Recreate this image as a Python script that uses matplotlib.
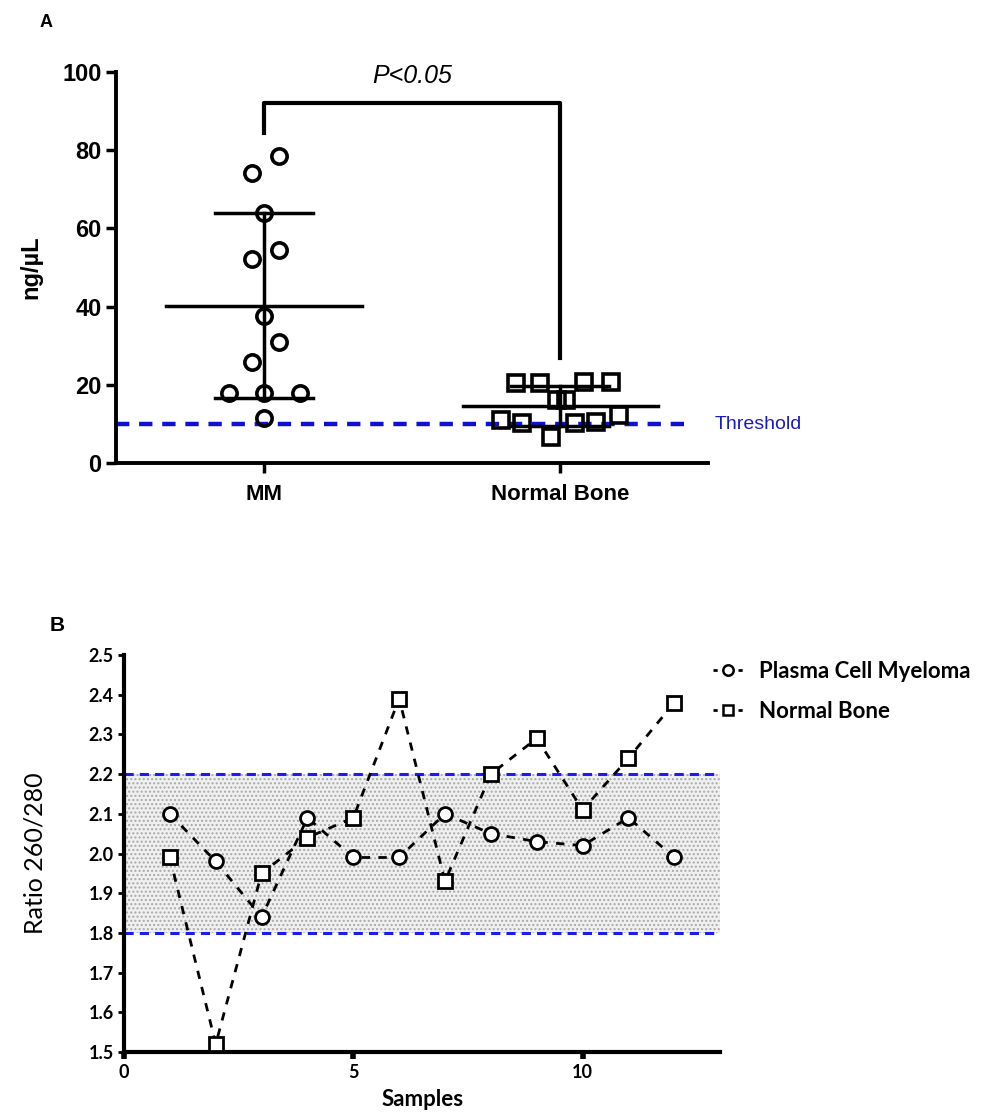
import numpy as np
import matplotlib.pyplot as plt
from matplotlib.lines import Line2D

# Panel A: DNA concentration (ng/uL)
groups = ["MM", "Normal Bone"]
mm_vals = [78.5, 74.2, 63.9, 54.5, 52.2, 37.6, 31.0, 25.8, 17.9, 17.9, 17.9, 11.5]
mm_dx = [0.05, -0.04, 0.0, 0.05, -0.04, 0.0, 0.05, -0.04, -0.12, 0.0, 0.12, 0.0]
nb_vals = [20.5, 20.5, 20.7, 20.7, 16.1, 16.1, 11.0, 10.2, 6.6, 10.2, 10.5, 12.3]
nb_dx = [-0.15, -0.07, 0.08, 0.17, -0.01, 0.02, -0.2, -0.13, -0.03, 0.05, 0.12, 0.2]
threshold = 10

# Panel B: ratio 260/280
samples = list(range(1, 13))
myeloma = [2.10, 1.98, 1.84, 2.09, 1.99, 1.99, 2.10, 2.05, 2.03, 2.02, 2.09, 1.99]
normal = [1.99, 1.52, 1.95, 2.04, 2.09, 2.39, 1.93, 2.20, 2.29, 2.11, 2.24, 2.38]
band = (1.8, 2.2)

fig = plt.figure(figsize=(9.92, 11.16), dpi=100)

# ---------------- Panel A ----------------
ax = fig.add_axes([0.117, 0.585, 0.597, 0.3505])
ax.set_xlim(-0.5, 1.5)
ax.set_ylim(0, 100)
for s in ["top", "right"]:
    ax.spines[s].set_visible(False)
for s in ["left", "bottom"]:
    ax.spines[s].set_linewidth(2.8)
ax.tick_params(width=2.5, length=7)
ax.tick_params(axis="y", labelsize=17)
ax.tick_params(axis="x", labelsize=16, pad=8)
ax.set_yticks([0, 20, 40, 60, 80, 100])
ax.set_xticks([0, 1])
ax.set_xticklabels(groups)
for lab in ax.get_xticklabels() + ax.get_yticklabels():
    lab.set_fontweight("bold")
    lab.set_family("Liberation Sans")
ax.set_ylabel("ng/µL", fontsize=17, fontweight="bold", family="Liberation Sans", labelpad=14)

ax.axhline(threshold, xmin=0, xmax=0.97, color="#1010d0", ls=(0, (3, 2.2)), lw=3.2, zorder=1)
ax.text(1.52, threshold, "Threshold", color="#1a1ac8", fontsize=14, va="center",
        family="Liberation Sans", clip_on=False)

for i, (vals, dx, mk) in enumerate([(mm_vals, mm_dx, "o"), (nb_vals, nb_dx, "s")]):
    m = np.mean(vals)
    sd = np.std(vals, ddof=1)
    ax.plot([i - 0.33, i + 0.33], [m, m], color="black", lw=2.5, zorder=2)
    ax.plot([i, i], [m - sd, m + sd], color="black", lw=2.5, zorder=2)
    for yy in (m - sd, m + sd):
        ax.plot([i - 0.165, i + 0.165], [yy, yy], color="black", lw=2.5, zorder=2)
    ax.plot(np.array(dx) + i, vals, ls="none", marker=mk, ms=11, mew=2.6,
            mfc="none", mec="black", zorder=3)

# significance bracket
ax.plot([0, 0, 1, 1], [84.5, 92, 92, 27], color="black", lw=3, clip_on=False, zorder=2)
ax.text(0.5, 99, "P<0.05", ha="center", va="center", fontsize=18, style="italic",
        family="Liberation Sans")
fig.text(0.04, 0.976, "A", fontsize=13, fontweight="bold", family="Liberation Sans")

# ---------------- Panel B ----------------
bx = fig.add_axes([0.125, 0.0573, 0.601, 0.3558])
bx.set_xlim(0, 13)
bx.set_ylim(1.5, 2.5)
for s in ["top", "right"]:
    bx.spines[s].set_visible(False)
for s in ["left", "bottom"]:
    bx.spines[s].set_linewidth(3)
bx.set_xticks([0, 5, 10])
bx.set_yticks(np.round(np.arange(1.5, 2.51, 0.1), 1))
bx.yaxis.set_major_formatter(plt.FormatStrFormatter("%.1f"))
bx.tick_params(axis="y", width=2, length=4, labelsize=13)
bx.tick_params(axis="x", width=4, length=5, labelsize=13)
for lab in bx.get_xticklabels() + bx.get_yticklabels():
    lab.set_fontweight("bold")
    lab.set_family("Lato")

bx.fill_between([0, 13], band[0], band[1], facecolor="#f0f0f0", edgecolor="#a8a8a8",
                hatch="....", linewidth=0, zorder=0)
for yv in band:
    bx.axhline(yv, color="#1c1cf0", ls=(0, (3, 2)), lw=2.2, zorder=1)

bx.plot(samples, myeloma, ls=(0, (3, 3)), color="black", lw=2, marker="o", ms=10,
        mew=2, mfc="white", mec="black", zorder=3)
bx.plot(samples, normal, ls=(0, (3, 3)), color="black", lw=2, marker="s", ms=10,
        mew=2, mfc="white", mec="black", zorder=3)

handles = [
    Line2D([], [], ls=(0, (1.5, 3)), color="black", lw=2, marker="o", ms=7.5,
           mew=1.8, mfc="white", mec="black"),
    Line2D([], [], ls=(0, (1.5, 3)), color="black", lw=2, marker="s", ms=7.5,
           mew=1.8, mfc="white", mec="black"),
]
leg = bx.legend(handles, ["Plasma Cell Myeloma", "Normal Bone"], loc="upper left",
                bbox_to_anchor=(0.955, 1.035), frameon=False, fontsize=16,
                handlelength=1.35, handletextpad=0.7, labelspacing=0.85)
for t in leg.get_texts():
    t.set_fontweight("bold")
    t.set_family("Lato")

bx.set_xlabel("Samples", fontsize=16, fontweight="bold", family="Lato", labelpad=6)
bx.set_ylabel("Ratio 260/280", fontsize=18, family="Lato", labelpad=30)
fig.text(0.05, 0.435, "B", fontsize=15, fontweight="bold", family="Liberation Sans")

fig.savefig("out.png", dpi=100)
